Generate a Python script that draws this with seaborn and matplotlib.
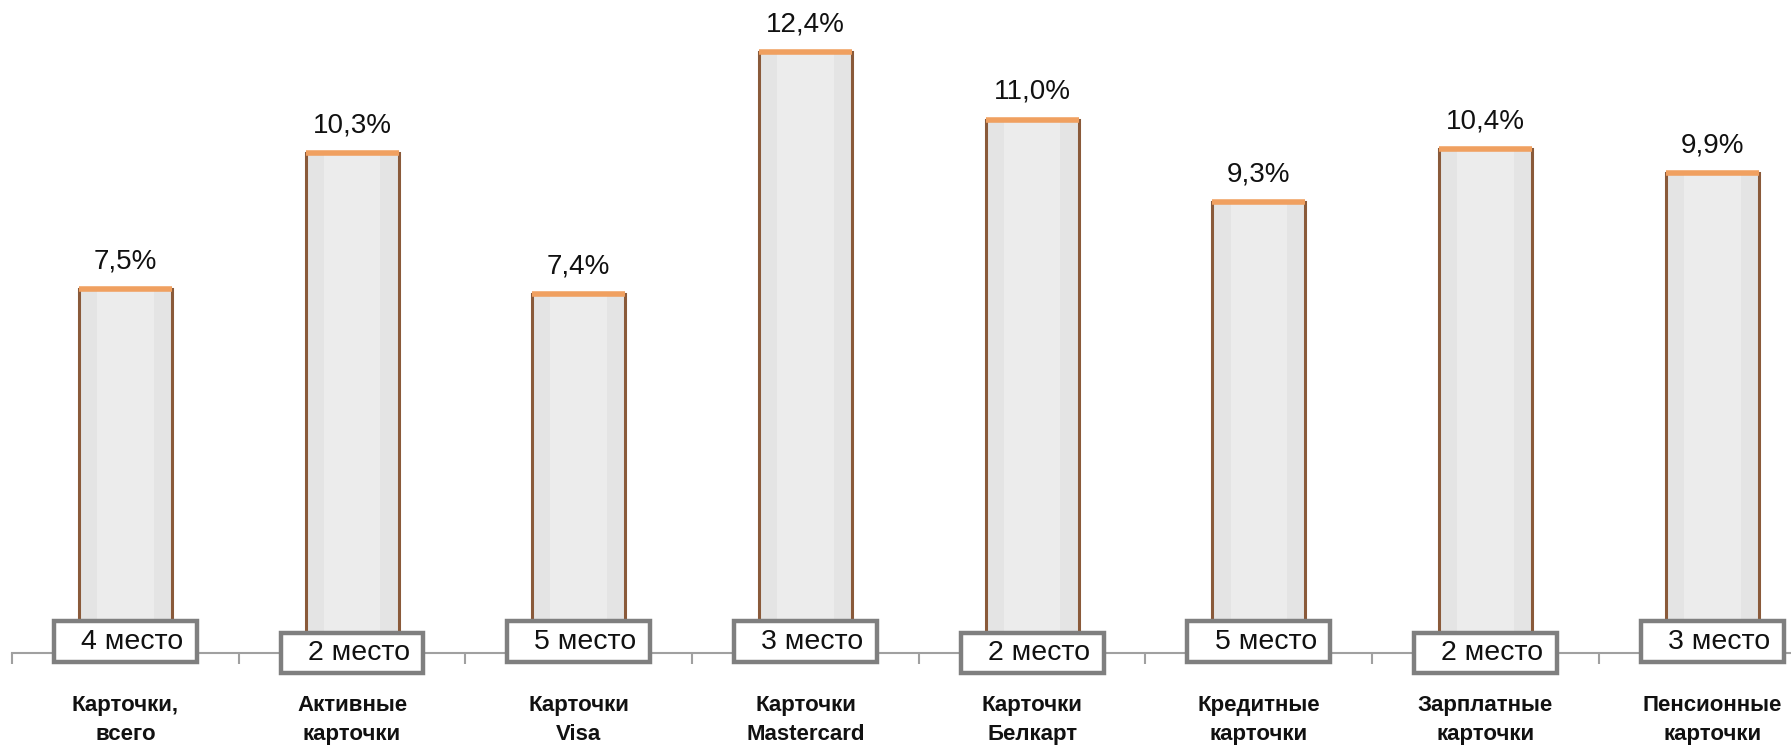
import matplotlib
matplotlib.use("Agg")
import matplotlib.pyplot as plt
import seaborn as sns
import pandas as pd
import numpy as np
from matplotlib.patches import Rectangle

categories = ["Карточки,\nвсего", "Активные\nкарточки", "Карточки\nVisa", "Карточки\nMastercard",
              "Карточки\nБелкарт", "Кредитные\nкарточки", "Зарплатные\nкарточки", "Пенсионные\nкарточки"]
values = [7.5, 10.3, 7.4, 12.4, 11.0, 9.3, 10.4, 9.9]
value_labels = ["7,5%", "10,3%", "7,4%", "12,4%", "11,0%", "9,3%", "10,4%", "9,9%"]
places = ["4 место", "2 место", "5 место", "3 место", "2 место", "5 место", "2 место", "3 место"]
box_raised = [True, False, True, True, False, True, False, True]

sns.set_theme(style="white")
plt.rcParams['font.family'] = ['Liberation Sans', 'DejaVu Sans']

df = pd.DataFrame({"cat": categories, "val": values})

fig = plt.figure(figsize=(17.91, 7.56), dpi=100)
W, H = 1791, 756
left_px, slot_px = 12, 226.7
base_px, top_px = 653, 22.5
ax = fig.add_axes([left_px / W, (H - base_px) / H, 8 * slot_px / W, (base_px - top_px) / H])

sns.barplot(data=df, x="cat", y="val", ax=ax, color="#e4e4e4", width=0.41,
            edgecolor="#8a5a3a", linewidth=2.2, saturation=1)
# highlight overlay (inner lighter stripe)
sns.barplot(data=df, x="cat", y="val", ax=ax, color="#ececec", width=0.25,
            linewidth=0, saturation=1)

ax.set_xlim(-0.5, 7.5)
ax.set_ylim(0, 13)

# orange top rim
for i, v in enumerate(values):
    ax.hlines(v, i - 0.205, i + 0.205, color="#f0a060", linewidth=4, zorder=5)
    ax.text(i, v + 0.3, value_labels[i], ha="center", va="bottom", fontsize=20, color="#111111")

# place boxes
bw, bh = 0.63, 0.84
for i, p in enumerate(places):
    yc = 0.23 if box_raised[i] else 0.0
    rect = Rectangle((i - bw / 2, yc - bh / 2), bw, bh, facecolor="white", edgecolor="#7f7f7f",
                     linewidth=3.2, zorder=6, clip_on=False)
    ax.add_patch(rect)
    ax.text(i + 0.03, yc, p, ha="center", va="center", fontsize=20.5, color="#111111", zorder=7)

for s in ["top", "right", "left"]:
    ax.spines[s].set_visible(False)
ax.spines["bottom"].set_color("#a0a0a0")
ax.spines["bottom"].set_linewidth(1.5)
ax.set_yticks([])
ax.set_xlabel("")
ax.set_ylabel("")
ax.set_xticks(np.arange(-0.5, 8.0, 1.0), minor=False)
ax.set_xticklabels([])
ax.tick_params(axis="x", direction="out", length=8, width=1.5, color="#a0a0a0", bottom=True)

for i, c in enumerate(categories):
    ax.annotate(c, xy=(i, 0), xycoords=("data", "axes fraction"), xytext=(0, -30),
                textcoords="offset points", ha="center", va="top", fontsize=16,
                fontweight="bold", color="#111111", linespacing=1.5)

fig.savefig("out.png", dpi=100)
